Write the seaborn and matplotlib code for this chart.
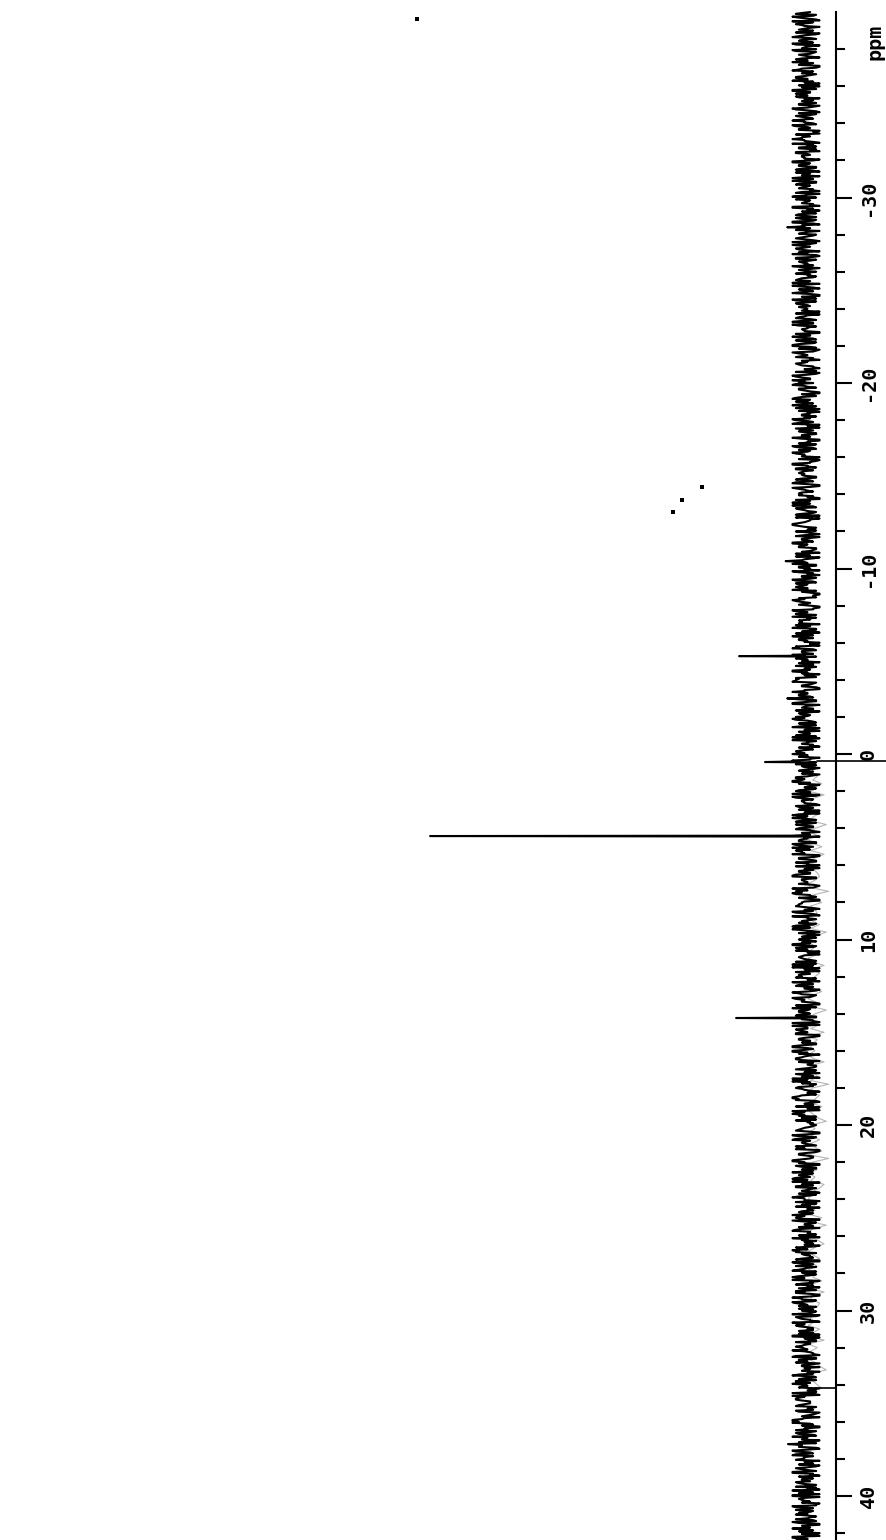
import numpy as np
import pandas as pd
import matplotlib
matplotlib.use("Agg")
import matplotlib.pyplot as plt
import seaborn as sns

# ---------------- data ----------------
PPM_START = -40.0
PPM_STEP = 0.1
NOISE_DIGITS_A = (
    "38271946052817364905182736495017263849510293847561"
    "72940183652947018365294710836529471803652918473605"
    "18463920574819263705148293657041283659071842739560"
    "56302918474630581927465039281791027483657204819635"
    "29475061838295074613829405716360319274850713948265"
    "51829037466208539174286035971482506394712683059417"
    "30746192858413027965302851947603916825740389162574"
    "67215940388926105473815946207389412605738951420367"
    "94038615273048697152830946518273095461827304956718"
    "25869073140257389164702589314067825930416729850341"
    "71392584066381295047613928504713862059473816290547"
    "48057316929405867312840569731285046971328405976132"
    "13680472955168047239508164273950681427395016842735"
    "80524769313965208471536092847153960284715309628417"
    "62917305844720951836645209178365402917835604129783"
    "37148026597360418295073614829560371849205637184920"
    "95630184278142906357019482736504918273640529187364"
)
NOISE_DIGITS_B = (
    "61940285373059172846913508427069315842076193580247"
    "04817362951837204695021738465093716284095173620849"
    "73520946181629053847265019384790817426354316850927"
    "29061847355084736291450837162937195620486251048397"
    "85173026944718203659470382516904728139562039418576"
    "16384095277403962851608347952140836295713048265917"
    "59206381474960215837029485136786130492753072659184"
    "02843965178136059472719052836458271930461094637285"
    "47391860526285930417391826507405749183628263047195"
    "93650271848027391654219468370567502819434183927065"
    "36918402575129604837840372519629560813747162039485"
    "80273619459736802415158204963763417980520297516843"
    "25740918363850174269706129358494283601755813046297"
    "69152083470413527986328074159617593620488046195732"
    "14086395722679041358593281740603647251894721905863"
    "58327140699205837146416709382585204619372685310479"
    "07561928344381705926609438275131975460289340271856"
)
NOISE_LEVELS = [-3.6, -2.7, -1.9, -1.1, -0.4, 0.4, 1.1, 1.9, 2.7, 3.6]
SPIKE_PPM = [-28.4, -10.4, -2.96, 37.25]
SPIKE_VAL = [5.0, 5.4, 5.0, 4.8]

PEAK_PPM = [-5.28, 0.43, 4.42, 14.23]
PEAK_HEIGHT = [17.8, 10.9, 100.0, 18.6]

GRAY_START = 0.4
GRAY_STEP = 0.2
GRAY_DIGITS = (
    "20314261072103521831402617301245301920613402518301"
    "31402715302162041830251704213027103419205316024813"
    "02513609214031752104230618201473025140326107215402"
    "13052170412035810246"
)

DOT_PPM = [-39.62, -14.39, -13.69, -13.05]
DOT_INT = [103.5, 27.7, 33.0, 35.4]

MAJOR_TICKS = [-30, -20, -10, 0, 10, 20, 30, 40]
TICK_LABELS = ["-30", "-20", "-10", "0", "10", "20", "30", "40"]
MINOR_TICKS = list(range(-38, 43, 2))
EDGE_PPM = [0.38, 34.2]
EDGE_FROM = [-2.9, -2.4]
EDGE_TO = [-21.6, -8.0]

# ---------------- build trace ----------------
na, nb = len(NOISE_DIGITS_A), len(NOISE_DIGITS_B)
ppm_a = PPM_START + PPM_STEP * np.arange(na)
ppm_b = PPM_START + PPM_STEP / 2 + PPM_STEP * np.arange(nb)
val_a = np.array([NOISE_LEVELS[int(c)] for c in NOISE_DIGITS_A])
val_b = np.array([NOISE_LEVELS[int(c)] for c in NOISE_DIGITS_B])
for p, v in zip(SPIKE_PPM, SPIKE_VAL):
    val_a[int(round((p - PPM_START) / PPM_STEP))] = v
trace = pd.DataFrame({"ppm": np.concatenate([ppm_a, ppm_b, PEAK_PPM]),
                      "intensity": np.concatenate([val_a, val_b, PEAK_HEIGHT])})
trace = trace.sort_values("ppm", kind="stable").reset_index(drop=True)

g_ppm = GRAY_START + GRAY_STEP * np.arange(len(GRAY_DIGITS))
g_val = np.array([-(0.6 + 0.6 * int(c)) for c in GRAY_DIGITS])
gray = pd.DataFrame({"ppm": g_ppm, "intensity": g_val})

dots = pd.DataFrame({"ppm": DOT_PPM, "intensity": DOT_INT})

# ---------------- plot ----------------
sns.set_theme(style="white")
plt.rcParams["font.family"] = ["DejaVu Sans Mono", "DejaVu Sans"]
plt.rcParams["axes.unicode_minus"] = False

fig = plt.figure(figsize=(8.87, 15.4), dpi=100)
ax = fig.add_axes([0, 0, 836 / 887, 1])
ax.set_facecolor("white")

sns.lineplot(data=gray, x="intensity", y="ppm", sort=False, estimator=None,
             color="#b5b5b5", linewidth=0.8, ax=ax, zorder=1)
sns.lineplot(data=trace, x="intensity", y="ppm", sort=False, estimator=None,
             color="black", linewidth=1.5, ax=ax, zorder=2)
sns.scatterplot(data=dots, x="intensity", y="ppm", color="black", marker="s",
                s=5, linewidth=0, ax=ax, zorder=3)

for p, a, b in zip(EDGE_PPM, EDGE_FROM, EDGE_TO):
    ax.plot([a, b], [p, p], color="black", linewidth=1.2, clip_on=False, zorder=3)

ax.set_xlim(214.4, -7.98)
ax.set_ylim(42.37, -40.65)

for s in ["left", "top", "bottom"]:
    ax.spines[s].set_visible(False)
ax.spines["right"].set_visible(True)
ax.spines["right"].set_color("black")
ax.spines["right"].set_linewidth(1.5)
ax.spines["right"].set_bounds(-40, 42.37)

ax.set_xticks([])
ax.set_xlabel("")
ax.set_ylabel("")
ax.yaxis.tick_right()
ax.set_yticks(MAJOR_TICKS)
ax.set_yticklabels(TICK_LABELS)
ax.set_yticks(MINOR_TICKS, minor=True)
ax.tick_params(axis="y", which="major", direction="out", length=11.5, width=1.5,
               color="black", labelsize=14.5, pad=5, labelcolor="black")
ax.tick_params(axis="y", which="minor", direction="out", length=6.5, width=1.5,
               color="black")
for lbl in ax.get_yticklabels():
    lbl.set_rotation(90)
    lbl.set_va("center")
    lbl.set_ha("left")
    lbl.set_fontweight("bold")

fig.text(875 / 887, 1 - 42 / 1540, "ppm", rotation=90, ha="center", va="center",
         fontsize=14.5, fontweight="bold", color="black")

fig.savefig("out.png", dpi=100)
